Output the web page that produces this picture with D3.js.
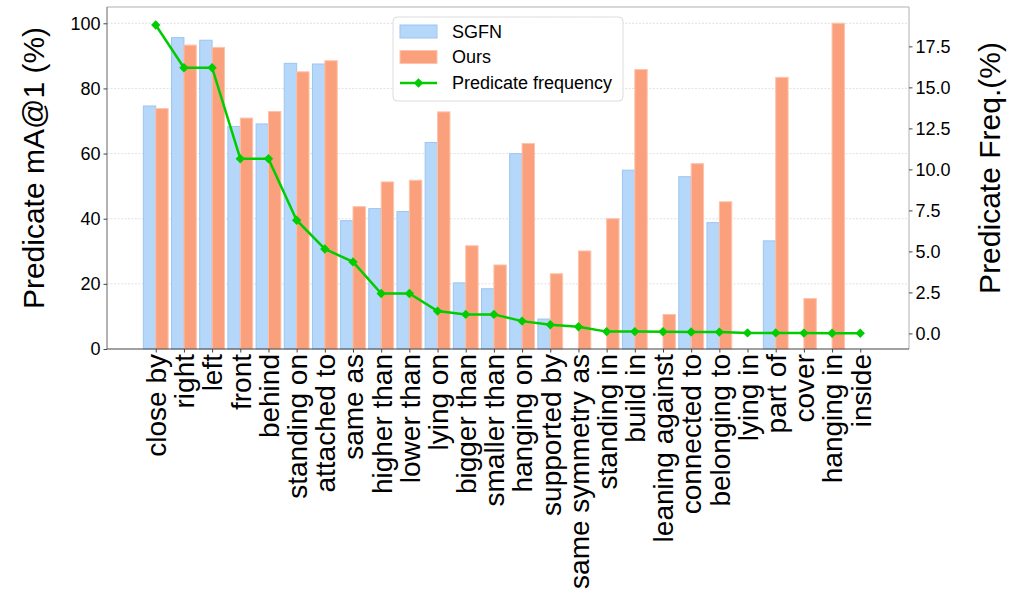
<!DOCTYPE html>
<html>
<head>
<meta charset="utf-8">
<script src="https://cdn.jsdelivr.net/npm/d3@7"></script>
<style>
  body { margin: 0; background: #fff; }
  svg { display: block; font-family: "Liberation Sans", Arial, sans-serif; }
</style>
</head>
<body>
<svg id="chart" width="1009" height="595"></svg>
<script>
const categories = ["close by","right","left","front","behind","standing on","attached to","same as","higher than","lower than","lying on","bigger than","smaller than","hanging on","supported by","same symmetry as","standing in","build in","leaning against","connected to","belonging to","lying in","part of","cover","hanging in","inside"];
const sgfn = [74.6,95.6,94.8,68.3,69.1,87.7,87.5,39.4,43.1,42.2,63.4,20.3,18.5,60.0,9.2,0,0,54.9,0,52.9,38.8,0,33.2,0,0,0];
const ours = [73.8,93.3,92.6,70.9,72.9,85.1,88.5,43.7,51.3,51.8,72.8,31.7,25.8,63.1,23.1,30.1,40.0,85.8,10.6,56.9,45.2,0,83.4,15.5,100,0];
const freq = [18.8,16.2,16.2,10.65,10.65,6.9,5.15,4.36,2.43,2.43,1.36,1.16,1.16,0.75,0.53,0.41,0.11,0.11,0.1,0.09,0.08,0.03,0.03,0.02,0.01,0.01];
const leftTicks = [0,20,40,60,80,100];
const rightTicks = [0,2.5,5,7.5,10,12.5,15,17.5];
const seriesNames = ["SGFN","Ours","Predicate frequency"];

const colors = {sgfnFill:"#b5d7fa", sgfnEdge:"#9cc6f0", oursFill:"#fba07c", oursEdge:"#fdc3ab", line:"#00cc00"};

const svg = d3.select("#chart");
const L = 107, R = 909, T = 7, B = 349;
const n = categories.length;
const bw = 0.44;
const x = d3.scaleLinear().domain([-1.73, n - 1 + 1.73]).range([L, R]);
const yL = d3.scaleLinear().domain([0, 105]).range([B, T]);
const yR = d3.scaleLinear().domain([-0.95, 19.9]).range([B, T]);

// grid
svg.append("g").selectAll("line").data(leftTicks.filter(d => d > 0)).join("line")
  .attr("x1", L).attr("x2", R).attr("y1", d => yL(d)).attr("y2", d => yL(d))
  .attr("stroke", "#d9d9d9").attr("stroke-width", 0.8).attr("stroke-dasharray", "2,1.5");

// bars
const idx = d3.range(n);
svg.append("g").selectAll("rect").data(idx.filter(i => sgfn[i] > 0)).join("rect")
  .attr("x", i => x(i - bw)).attr("width", i => x(i) - x(i - bw))
  .attr("y", i => yL(sgfn[i])).attr("height", i => yL(0) - yL(sgfn[i]))
  .attr("fill", colors.sgfnFill).attr("stroke", colors.sgfnEdge).attr("stroke-width", 1);
svg.append("g").selectAll("rect").data(idx.filter(i => ours[i] > 0)).join("rect")
  .attr("x", i => x(i)).attr("width", i => x(i + bw) - x(i))
  .attr("y", i => yL(ours[i])).attr("height", i => yL(0) - yL(ours[i]))
  .attr("fill", colors.oursFill).attr("stroke", colors.oursEdge).attr("stroke-width", 1);

// spines
svg.append("line").attr("x1", L).attr("x2", R).attr("y1", T).attr("y2", T).attr("stroke", "#b0b0b0").attr("stroke-width", 1);
svg.append("line").attr("x1", R).attr("x2", R).attr("y1", T).attr("y2", B).attr("stroke", "#b0b0b0").attr("stroke-width", 1);
svg.append("line").attr("x1", L).attr("x2", L).attr("y1", T).attr("y2", B).attr("stroke", "#666").attr("stroke-width", 1);
svg.append("line").attr("x1", L).attr("x2", R).attr("y1", B).attr("y2", B).attr("stroke", "#444").attr("stroke-width", 1.2);

// frequency line
const line = d3.line().x((d, i) => x(i)).y(d => yR(d));
svg.append("path").datum(freq).attr("d", line).attr("fill", "none")
  .attr("stroke", colors.line).attr("stroke-width", 2.5);
const diamond = d3.symbol().type(d3.symbolSquare).size(44);
svg.append("g").selectAll("path").data(freq).join("path")
  .attr("d", diamond)
  .attr("transform", (d, i) => `translate(${x(i)},${yR(d)}) rotate(45)`)
  .attr("fill", colors.line);

// left axis
const axL = svg.append("g").attr("transform", `translate(${L},0)`)
  .call(d3.axisLeft(yL).tickValues(leftTicks).tickSize(3.5).tickPadding(3).tickFormat(d3.format("d")));
axL.select(".domain").remove();
axL.selectAll("line").attr("stroke", "#444");
axL.selectAll("text").attr("font-size", 18).attr("fill", "#000");

// right axis
const axR = svg.append("g").attr("transform", `translate(${R},0)`)
  .call(d3.axisRight(yR).tickValues(rightTicks).tickSize(3.5).tickPadding(3).tickFormat(d3.format(".1f")));
axR.select(".domain").remove();
axR.selectAll("line").attr("stroke", "#444");
axR.selectAll("text").attr("font-size", 18).attr("fill", "#000");

// x axis
const axX = svg.append("g").attr("transform", `translate(0,${B})`)
  .call(d3.axisBottom(x).tickValues(idx).tickSize(3.5).tickFormat(i => categories[i]));
axX.select(".domain").remove();
axX.selectAll("line").attr("stroke", "#444");
axX.selectAll("text")
  .attr("font-size", 28).attr("fill", "#000")
  .attr("text-anchor", "end")
  .attr("transform", "rotate(-90)")
  .attr("x", -5).attr("y", 0).attr("dy", "0.35em");

// axis labels
svg.append("text").attr("transform", `translate(44,${(T + B) / 2 - 10}) rotate(-90)`)
  .attr("text-anchor", "middle").attr("font-size", 30).text("Predicate mA@1 (%)");
svg.append("text").attr("transform", `translate(1000,${(T + B) / 2 - 10}) rotate(-90)`)
  .attr("text-anchor", "middle").attr("font-size", 30).text("Predicate Freq.(%)");

// legend
const lg = svg.append("g").attr("transform", "translate(393,17)");
lg.append("rect").attr("width", 230).attr("height", 84).attr("rx", 4)
  .attr("fill", "#fff").attr("fill-opacity", 0.85).attr("stroke", "#dcdcdc");
const rowsY = [14.5, 40, 66];
lg.append("rect").attr("x", 7).attr("y", rowsY[0] - 6.5).attr("width", 37).attr("height", 13)
  .attr("fill", colors.sgfnFill).attr("stroke", colors.sgfnEdge);
lg.append("rect").attr("x", 7).attr("y", rowsY[1] - 6.5).attr("width", 37).attr("height", 13)
  .attr("fill", colors.oursFill).attr("stroke", colors.oursEdge);
lg.append("line").attr("x1", 7).attr("x2", 44).attr("y1", rowsY[2]).attr("y2", rowsY[2])
  .attr("stroke", colors.line).attr("stroke-width", 2.5);
lg.append("path").attr("d", diamond).attr("transform", `translate(25.5,${rowsY[2]}) rotate(45)`).attr("fill", colors.line);
lg.selectAll("text.lt").data(seriesNames).join("text").attr("class", "lt")
  .attr("x", 59).attr("y", (d, i) => rowsY[i]).attr("dy", "0.35em")
  .attr("font-size", 18).text(d => d);
</script>
</body>
</html>
